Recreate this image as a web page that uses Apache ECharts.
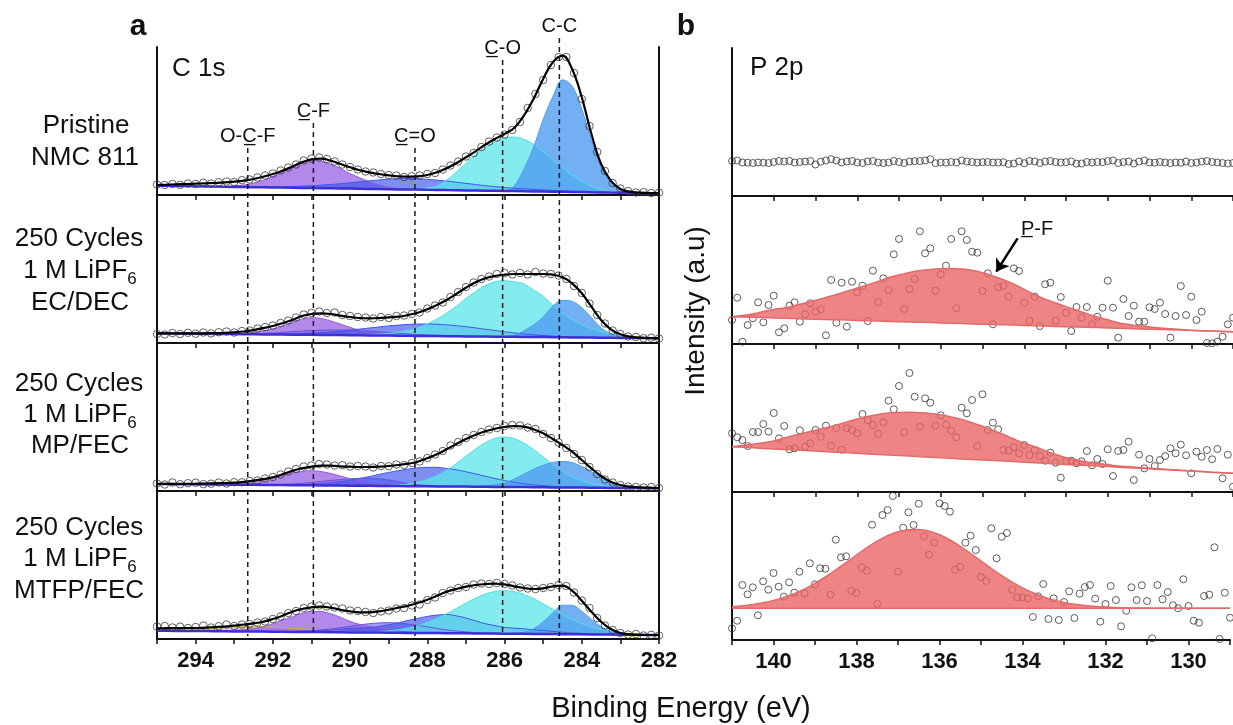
<!DOCTYPE html>
<html><head><meta charset="utf-8">
<script src="https://cdn.jsdelivr.net/npm/echarts/dist/echarts.min.js"></script>
<style>html,body{margin:0;padding:0;background:#fff}#c{width:1233px;height:725px}</style>
</head><body><div id="c"></div>
<script>
const FONT = "'Liberation Sans', Arial, Helvetica, sans-serif";

// ---------- C 1s (left column) ----------
const cX = [295,294.75,294.5,294.25,294,293.75,293.5,293.25,293,292.75,292.5,292.25,292,291.75,291.5,291.25,291,290.75,290.5,290.25,290,289.75,289.5,289.25,289,288.75,288.5,288.25,288,287.75,287.5,287.25,287,286.75,286.5,286.25,286,285.75,285.5,285.25,285,284.75,284.5,284.25,284,283.75,283.5,283.25,283,282.75,282.5,282.25,282];
const cDotX = [295,294.8,294.6,294.4,294.2,294,293.8,293.6,293.4,293.2,293,292.8,292.6,292.4,292.2,292,291.8,291.6,291.4,291.2,291,290.8,290.6,290.4,290.2,290,289.8,289.6,289.4,289.2,289,288.8,288.6,288.4,288.2,288,287.8,287.6,287.4,287.2,287,286.8,286.6,286.4,286.2,286,285.8,285.6,285.4,285.2,285,284.8,284.6,284.4,284.2,284,283.8,283.6,283.4,283.2,283,282.8,282.6,282.4,282.2,282];
const cTicks = [294,292,290,288,286,284,282];

// panel 1 : Pristine NMC 811
const bg1 = [9.3,9.2,9.0,8.9,8.7,8.6,8.4,8.3,8.1,8.0,7.8,7.7,7.5,7.4,7.3,7.1,7.0,6.8,6.7,6.5,6.4,6.2,6.1,5.9,5.8,5.6,5.5,5.4,5.2,5.1,4.9,4.8,4.6,4.5,4.3,4.2,4.0,3.9,3.7,3.6,3.5,3.3,3.2,3.0,2.9,2.7,2.6,2.4,2.3,2.1,2.0,1.8,1.7];
const env1 = [10,10.3,10.7,11,11.3,11.7,12,12.7,13.3,14.3,16,18.3,21,24.3,28.3,32.7,35.7,36.3,34.3,31,27.7,24.7,22.7,21,19.7,18.7,18.3,18.7,20,22.7,26.7,31.7,37.7,43.7,50.3,56,61,67,79.3,96,116,132.7,139.3,126,97.7,61,31,14.3,6,3.3,2.3,2,1.7];
const p1Purple = [0,0,0,0,0,0,0,0,1,2,4,7,11,16,21,25,28,27,24,20,15,11,7,4,2,1,0,0,0,0,0,0,0,0,0,0,0,0,0,0,0,0,0,0,0,0,0,0,0,0,0,0,0];
const p1Royal = [0,0,0,0,0,0,0,0,0,0,0.2,0.3,0.5,0.8,1.2,1.7,2.3,3,3.8,4.8,5.8,7,8.1,9.2,10.1,10.7,11,10.9,10.5,9.8,9,8,7,6,5,4.2,3.5,2.9,2.4,2,1.6,1.3,1,0.7,0.5,0.3,0.2,0,0,0,0,0,0];
const p1Cyan = [0,0,0,0,0,0,0,0,0,0,0,0,0,0,0,0,0,0,0,0,0,0,0,0,0,0,0,1,2,4,10,18,27,36,43,49,53,54,52,47,40,32,24,17,11,6,3,1,0,0,0,0,0];
const p1CC = [0,0,0,0,0,0,0,0,0,0,0,0,0,0,0,0,0,0,0,0,0,0,0,0,0,0,0,0,0,0,0,0,0,0,0,0,0,5,22,44,72,95,112,106,83,52,25,10,3,0.5,0,0,0];
const cDots1 = [10.5,10,11,10.2,11.5,11,12.3,11.5,12.8,13.5,13,14.8,15.5,17.5,19.5,21.5,24.5,27.5,30.5,34.5,36.5,37.5,36,33.5,30.5,28,25.5,23.5,22.5,21,20,19.5,18,18.8,19.5,21,22,25.5,29.5,33.5,38.5,42,48,53.5,57.5,60.5,65,73,87,101,115,130,138,138,122,96,69,43,24,12,6.5,4,2.5,2.8,2,2.3];

// panel 2 : EC/DEC
const bg2 = [9.7,9.6,9.5,9.4,9.3,9.2,9.1,9.0,8.9,8.8,8.7,8.6,8.5,8.4,8.3,8.3,8.2,8.1,8.0,7.9,7.8,7.7,7.6,7.5,7.4,7.3,7.2,7.1,7.0,6.9,6.8,6.7,6.6,6.5,6.4,6.3,6.2,6.2,6.1,6.0,5.9,5.8,5.7,5.6,5.5,5.4,5.3,5.2,5.1,5.0,4.9,4.8,4.7];
const env2 = [9.7,9.7,9.6,9.6,9.6,9.7,9.9,10.2,10.7,11.5,13,14.8,17,19.8,23,27,29,29.7,29,27.3,26,25,24.7,25,25.7,26.3,28,30.3,33.7,38,43,49,55.3,60.7,64.7,67,68.3,69,69,69,69,68.3,65.7,59.7,49.7,36.3,23,13.7,8.7,6.3,5.3,5,4.7];
const p2Violet = [0,0,0,0,0,0,0,0,0.3,0.4,0.6,1,1.5,2.2,3,3.7,4.3,4.7,5,5.1,5,4.7,4.3,3.7,3,2.4,1.8,1.4,1,0.7,0.5,0.3,0.2,0,0,0,0,0,0,0,0,0,0,0,0,0,0,0,0,0,0,0,0];
const p2Purple = [0,0,0,0,0,0,0,0,0.5,1,2,3.5,5.5,8.5,12.5,15.5,17,16.5,14,11,7.8,5,2.9,1.5,0.7,0.3,0,0,0,0,0,0,0,0,0,0,0,0,0,0,0,0,0,0,0,0,0,0,0,0,0,0,0];
const p2Royal = [0,0,0,0,0,0,0,0,0,0,0,0,0.3,0.5,0.8,1.1,1.6,2.2,3,3.9,5,6.2,7.4,8.6,9.7,10.6,11.4,11.8,12,11.8,11.4,10.6,9.7,8.6,7.4,6.2,5,3.9,3,2.2,1.6,1.1,0.8,0.5,0.3,0,0,0,0,0,0,0,0];
const p2Cyan = [0,0,0,0,0,0,0,0,0,0,0,0,0,0,0,0,0,0,0,0,0,0.2,0.7,1.3,2.2,3.5,5.5,8,12,17,23,30,38,45,51,55,56,55,53,47,41,32,24,18,13,9,6,4,2.5,1.5,1,0.5,0];
const p2CC = [0,0,0,0,0,0,0,0,0,0,0,0,0,0,0,0,0,0,0,0,0,0,0,0,0,0,0,0,0,0,0,0,0,0,0,0,0.5,1.5,6,12,20,31,37,36,30,20,10,4,1.5,0.5,0,0,0];
const cDots2 = [9,8.5,10,9,10.2,9.3,10.5,9.6,10.8,11.5,10.5,12,12.5,14.5,16,17.5,20,22.5,25.5,28.5,30,31.5,30,30.5,28,27,26,25.5,24.5,26,25,27,27.5,29,30.5,34.5,37.5,40.5,46,51,56,60.5,64,66.5,69,70,68.5,70,68.5,71,69.5,69,67.5,64,57,50,39.5,28,19.5,12.5,9,6.5,6,4.8,5.3,4.5];

// panel 3 : MP/FEC
const bg3 = [7.0,6.9,6.8,6.8,6.7,6.6,6.5,6.4,6.3,6.3,6.2,6.1,6.0,5.9,5.8,5.8,5.7,5.6,5.5,5.4,5.3,5.3,5.2,5.1,5.0,4.9,4.8,4.8,4.7,4.6,4.5,4.4,4.4,4.3,4.2,4.1,4.0,3.9,3.9,3.8,3.7,3.6,3.5,3.4,3.4,3.3,3.2,3.1,3.0,2.9,2.9,2.8,2.7];
const env3 = [7,7.1,7.1,7.2,7.3,7.5,7.7,8,8.3,9.2,10.3,11.8,13.7,16.7,20,22.7,24.3,25.3,25.3,24.7,24.3,24,24,24.3,25,26,27.3,29.3,32.7,36.7,41.7,47,52,56.3,59.7,62.3,64,65,64.3,61.7,57.7,52,46,39.3,31,22.7,15,9.3,6,4.3,3.7,3.3,3];
const p3Violet = [0,0,0,0,0,0,0,0,0,0,0,0,0.4,0.7,1.2,1.9,2.8,3.9,5,6,6.9,7.3,7.5,7.2,6,4.4,2.8,1.6,0.9,0.4,0.2,0,0,0,0,0,0,0,0,0,0,0,0,0,0,0,0,0,0,0,0,0,0];
const p3Purple = [0,0,0,0,0,0,0.5,1,1.6,2.6,3.9,5.3,7.1,9.7,12.3,13.8,14.6,13.8,12,9.5,6.9,4.5,2.5,1.2,0.5,0.2,0,0,0,0,0,0,0,0,0,0,0,0,0,0,0,0,0,0,0,0,0,0,0,0,0,0,0];
const p3Royal = [0,0,0,0,0,0,0,0,0,0,0,0,0,0.2,0.4,0.6,1.1,1.7,2.6,4,5.5,7.3,9.2,11.5,13.6,15.4,17.1,18.3,19,19,18.1,16.8,14.9,12.8,10.6,8.4,6.5,4.8,3.4,2.4,1.6,1,0.6,0.4,0.2,0,0,0,0,0,0,0,0];
const p3Cyan = [0,0,0,0,0,0,0,0,0,0,0,0,0,0,0,0,0,0,0,0,0,0,0,0,0.6,1.1,2.2,4,6.8,10.8,16.2,22.9,30.3,37.7,44,48.5,50,48.5,44,37.7,30.3,22.9,16.2,10.8,6.8,4,2.2,1.1,0.6,0.2,0,0,0];
const p3CC = [0,0,0,0,0,0,0,0,0,0,0,0,0,0,0,0,0,0,0,0,0,0,0,0,0,0,0,0,0,0,0,0,0,0,1,2,4,8,13,18,22,25,26,25,21,16,11,6,3,1.2,0.5,0,0];
const cDots3 = [7.5,6.5,8.5,6.8,7.8,8.3,6.8,7.3,8.5,7.5,8.8,8.7,10,10.5,12.5,14,16.5,19.5,22,24.5,25.5,27,26.5,25.5,25.8,24.5,25,24.5,23.5,25,24.8,26.5,26,28,29.5,33,36.5,40,45.5,49,53,56,59,61.5,63,65,66,65.5,63.5,62,57,53,48.5,43,37,31,24,17,11.5,8.5,6,4.5,4,3.5,4,3];

// panel 4 : MTFP/FEC
const bg4 = [8.3,8.2,8.1,8.1,8.0,7.9,7.8,7.7,7.6,7.6,7.5,7.4,7.3,7.2,7.1,7.1,7.0,6.9,6.8,6.7,6.6,6.6,6.5,6.4,6.3,6.2,6.1,6.1,6.0,5.9,5.8,5.7,5.7,5.6,5.5,5.4,5.3,5.2,5.2,5.1,5.0,4.9,4.8,4.7,4.7,4.6,4.5,4.4,4.3,4.2,4.2,4.1,4.0];
const env4 = [10.7,10.8,10.9,11,11,11.3,11.8,12.5,13.3,14.5,15.7,17.3,20,23.3,27.3,30,31.7,32.3,31.3,29.3,27.7,26.7,26.7,27.7,29.3,31.3,33.3,36,39.3,43.3,47.3,50,52.3,54,55,55.3,54.7,52.7,51,50,50.7,52.7,53.3,48.3,38.3,27.3,17.3,10,6,4.7,4,4,4];
const p4Olive = [2,2.2,2.5,2.7,3,3.2,3.5,4,4.5,4.8,5,4.8,4.5,4,3.5,3,2.5,2,1.5,1.1,0.8,0.5,0.3,0.1,0,0,0,0,0,0,0,0,0,0,0,0,0,0,0,0,0,0,0,0,0,0,0,0,0,0,0,0,0];
const p4Violet = [0,0,0,0,0,0,0,0,0,0,0,0,0,0,0.4,0.8,1.4,2.3,3.2,4.6,6.1,7.5,8.8,9.7,10,9.7,8.8,7.5,6.1,4.6,3.2,2.3,1.4,0.8,0.4,0,0,0,0,0,0,0,0,0,0,0,0,0,0,0,0,0,0];
const p4Purple = [0,0,0,0,0,0,0,0.5,1,1.8,3,5,8,12,15,18.5,20.5,20.5,18.5,15,11,8,6,4.5,3,1.8,1,0.4,0,0,0,0,0,0,0,0,0,0,0,0,0,0,0,0,0,0,0,0,0,0,0,0,0];
const p4Royal = [0,0,0,0,0,0,0,0,0,0,0,0,0,0,0,0,0.8,1.3,2,3,4,4.4,4.8,6.2,8,10,12.5,14.5,16.6,18,18.8,17.5,15.2,12.5,9.8,8,6.4,5.6,5,4.2,3.5,2.7,2,1.4,1,0.5,0.2,0,0,0,0,0,0];
const p4Cyan = [0,0,0,0,0,0,0,0,0,0,0,0,0,0,0,0,0,0,0,0,0,0,0.6,1.1,1.9,3.1,4.9,7.4,10.7,14.7,19.5,24.8,30.2,35.3,39.4,42.1,43,42.1,39.4,35.3,30.2,24.8,19.5,14.7,10.7,7.4,4.9,3.1,1.9,1.1,0.6,0.3,0];
const p4CC = [0,0,0,0,0,0,0,0,0,0,0,0,0,0,0,0,0,0,0,0,0,0,0,0,0,0,0,0,0,0,0,0,0,0,0,0,0,0.5,1.5,5,12,21,29,29,23,15,8,3,1,0.3,0,0,0];
const cDots4 = [12.5,13,11.5,12.3,11,12,13.5,11.5,12.8,14.5,13,14.5,15,16.5,17.5,20,22.5,26,28,31,32.5,33.5,32.5,31.5,30.5,28.5,28,27,26,27.5,28.5,30.5,31,33.5,34.5,39,41.5,46,48.5,51,52,54.5,55.5,55,56,55,53.5,51.5,50.5,50,51,52,54,53,46.5,38.5,31,21,13.5,9,6,4.5,5,3.5,4.2,3.5];

// peak positions and labels (C 1s)
const peakPos = [292.65, 290.95, 288.32, 286.05, 284.58];
const peakTop = [47, 72, 47, 135, 157];
const peakLabels = ['O-C\u0332-F', 'C\u0332-F', 'C\u0332=O', 'C\u0332-O', 'C-C'];

// ---------- P 2p (right column) ----------
const pX = [141,140.75,140.5,140.25,140,139.75,139.5,139.25,139,138.75,138.5,138.25,138,137.75,137.5,137.25,137,136.75,136.5,136.25,136,135.75,135.5,135.25,135,134.75,134.5,134.25,134,133.75,133.5,133.25,133,132.75,132.5,132.25,132,131.75,131.5,131.25,131,130.75,130.5,130.25,130,129.75,129.5,129.25,129];
const pDotX = [141,140.875,140.75,140.625,140.5,140.375,140.25,140.125,140,139.875,139.75,139.625,139.5,139.375,139.25,139.125,139,138.875,138.75,138.625,138.5,138.375,138.25,138.125,138,137.875,137.75,137.625,137.5,137.375,137.25,137.125,137,136.875,136.75,136.625,136.5,136.375,136.25,136.125,136,135.875,135.75,135.625,135.5,135.375,135.25,135.125,135,134.875,134.75,134.625,134.5,134.375,134.25,134.125,134,133.875,133.75,133.625,133.5,133.375,133.25,133.125,133,132.875,132.75,132.625,132.5,132.375,132.25,132.125,132,131.875,131.75,131.625,131.5,131.375,131.25,131.125,131,130.875,130.75,130.625,130.5,130.375,130.25,130.125,130,129.875,129.75,129.625,129.5,129.375,129.25,129.125,129];
const pTicks = [140,138,136,134,132,130];

const pDots1 = [35,35.5,33.5,33.3,33,33.5,33.3,33,34,35,34.5,35,33.5,34,34.5,35,31.5,34.3,35.5,36.8,35.5,33.5,34.5,35,33.5,33,34.5,35,33.5,33,33.5,35,34,33,34.5,34.8,35,35.5,36.8,32.8,33.5,33.5,34,33.5,35.5,34.5,34,33.5,33.8,34,33.5,33.5,33.8,32,32.5,34.5,32.8,35,34.5,33,34.5,35,34,33.5,33.8,34.5,32.3,32.5,34,33.5,34,33.8,35,35.5,33,34,34.5,32.5,34.5,35.5,33.5,33.3,34,33.5,33,33.5,33.3,34.5,33,33.5,34.5,35,34,33.5,33,32.5,33];
const pDots2 = [24,46.3,2.3,19,25.7,41.7,21.7,39,48.3,11.7,15.7,38.3,41.7,22.3,29.7,40.7,32.3,34.7,8.7,64,21.3,61.3,17.3,62.3,51.7,58.3,23,73.3,42,65.7,54,89.7,105,35,55,65,112.7,90.7,95.7,53.3,69.7,78.3,105,35.7,112.7,104,92.3,91.3,53,70.7,19.7,56.7,58.3,47.3,75.7,73,41.3,23,47.3,18,59.7,61.3,23.3,47,31.3,13,37,26.3,37,19.7,27.3,36.3,63.3,36.3,6.3,45,28,38.3,22.3,22.3,36.7,35,41.3,30,6.3,28,58,29,47.3,24,32.3,1,0.7,2.3,7.3,19.7,26.3];
const pDots3 = [58.7,54.7,52,46,60,60,68,60.3,79,53.7,66,42.7,43.7,61.7,45.3,48.7,62,55.3,66.3,46.3,64,42.3,63.7,62,58.7,78,72,67,58,69.7,91.3,82.7,106,59.7,119,95.3,65.3,93.7,89.3,66.3,76.7,67.3,61.3,54.7,84.3,78.7,92,46,97.7,62,69.3,62.7,42,41.3,44.7,38.7,47,37,42,36,31.3,39.3,29.3,14.3,30.7,31.3,28.7,30.7,41,26.7,33,28,42.7,16,41,42,50.3,12,37.3,23.7,33,26,32,36,43.7,38.7,47.3,36.7,18.7,40.3,35.3,42,32.7,43,13.7,37.3,5.3];
const pDots4 = [11.7,19.3,55,45.7,52.7,24.7,58.7,50.3,67,53.3,43.3,57.7,47.3,68.3,46.7,76.7,55.7,71.7,71.3,45.3,100.3,82.7,83.7,49.3,47,72.3,69.3,115.3,36.3,125,130,144,68.3,112.3,127.7,115,136.3,103.7,85.3,97.3,136.7,134,128.3,70.3,73.3,97.3,104.3,90,63,59,111.7,81.7,103.3,107,50.3,42.7,42.7,41.7,23,43.7,56,21,41.7,20,38,48.7,22,46.3,53,55,41.3,18.3,36,54,40,13.7,29.3,52.7,40,54.7,39,1.7,55,40.7,48,34.7,31.7,60.7,34,19.3,17.3,44,45.3,92.7,1,47.3,22.3];

const pBase2 = [27.3,27,26.7,26.4,26.1,25.7,25.4,25.1,24.8,24.5,24.2,23.9,23.6,23.2,22.9,22.6,22.3,22,21.7,21.4,21.1,20.7,20.4,20.1,19.8,19.5,19.2,18.9,18.6,18.2,17.9,17.6,17.3,17,16.7,16.4,16.1,15.7,15.4,15.1,14.8,14.5,14.2,13.9,13.6,13.2,12.9,12.6,12.3];
const pPeak2 = [0,1.5,3.3,6.1,8.4,10.3,13.1,15.9,18.9,22,25.3,28.8,32.4,36,39.6,43.9,46.7,49.5,51.7,53.2,54.2,54.9,54.6,53.6,51.5,48.5,45,40.8,36,31,26.9,23.4,20.1,16.8,13.5,10.6,8.1,5.6,4.2,3.1,2.2,1.5,1,0.5,0.2,0.1,0,0,0];
const pBase3 = [45.3,44.7,44.2,43.6,43.1,42.5,42,41.4,40.9,40.3,39.8,39.2,38.7,38.1,37.5,37,36.4,35.9,35.3,34.8,34.2,33.7,33.1,32.6,32,31.5,30.9,30.4,29.8,29.2,28.7,28.1,27.6,27,26.5,25.9,25.4,24.8,24.3,23.7,23.2,22.6,22.1,21.5,21,20.4,19.8,19.3,18.7];
const pPeak3 = [0,1.8,3.5,5.6,7.9,11.5,14.7,17.8,20.8,24,27.2,30.8,34.3,37.5,40,41.9,43.1,43.8,44,43.7,43.1,41.3,39.4,36.7,33.7,30,26.6,22.6,19,16.3,12.6,9.4,6.7,5,3.5,2.7,2,1.2,1,0.9,0.6,0.6,0.4,0.3,0,0,0,0,0];
const pBase4 = [31.7,31.7,31.7,31.7,31.7,31.7,31.7,31.7,31.7,31.7,31.7,31.7,31.7,31.7,31.7,31.7,31.7,31.7,31.7,31.7,31.7,31.7,31.7,31.7,31.7,31.7,31.7,31.7,31.7,31.7,31.7,31.7,31.7,31.7,31.7,31.7,31.7,31.7,31.7,31.7,31.7,31.7,31.7,31.7,31.7,31.7,31.7,31.7,31.7];
const pPeak4 = [1.6,2.5,3.8,5.5,7.8,10.9,14.7,19.4,25,31.3,38.4,45.8,53.3,60.6,67.2,72.6,76.5,78.6,78.8,77.1,73.5,68.3,62,54.8,47.3,39.8,32.7,26.1,20.4,15.6,11.6,8.4,5.9,4.1,2.8,1.8,1.2,0.8,0.5,0.3,0.2,0,0,0,0,0,0,0,0];

// arrow of the P-F annotation (data units of panel b-2)
const pfArrow = [[134.16, 105.7], [134.67, 72.3]];

// ---------- styles ----------
const compStyle = {
  olive:  {fill: 'rgba(196,186,80,0.55)', edge: '#c2b64a'},
  violet: {fill: 'rgba(112,84,232,0.6)',  edge: '#6a4fe0'},
  purple: {fill: 'rgba(150,96,226,0.74)', edge: '#9558dc'},
  royal:  {fill: 'rgba(66,88,236,0.68)',  edge: '#4256ea'},
  cyan:   {fill: 'rgba(90,230,234,0.75)', edge: '#4edfe6'},
  cc:     {fill: 'rgba(80,156,240,0.8)',  edge: '#4f9cf0'}
};

const leftPanels = [
  {bg: bg1, env: env1, dots: cDots1, comps: [['purple', p1Purple], ['royal', p1Royal], ['cyan', p1Cyan], ['cc', p1CC]]},
  {bg: bg2, env: env2, dots: cDots2, comps: [['violet', p2Violet], ['purple', p2Purple], ['royal', p2Royal], ['cyan', p2Cyan], ['cc', p2CC]]},
  {bg: bg3, env: env3, dots: cDots3, comps: [['violet', p3Violet], ['purple', p3Purple], ['royal', p3Royal], ['cyan', p3Cyan], ['cc', p3CC]]},
  {bg: bg4, env: env4, dots: cDots4, comps: [['olive', p4Olive], ['violet', p4Violet], ['purple', p4Purple], ['royal', p4Royal], ['cyan', p4Cyan], ['cc', p4CC]]}
];
const rightPanels = [
  {dots: pDots1}, {dots: pDots2, base: pBase2, peak: pPeak2},
  {dots: pDots3, base: pBase3, peak: pPeak3}, {dots: pDots4, base: pBase4, peak: pPeak4}
];

const pairs = (xs, ys) => xs.map((x, i) => [x, ys[i]]);

const grid = [];
for (let p = 0; p < 4; p++) grid.push({left: 157, top: 47 + 148 * p, width: 502, height: 148});
for (let p = 0; p < 4; p++) grid.push({left: 732, top: 48 + 148 * p, width: 502, height: 148});

const xAxis = [];
for (let g = 0; g < 8; g++) {
  const isLeft = g < 4, last = (g % 4) === 3;
  const ticks = isLeft ? cTicks : pTicks;
  xAxis.push({
    type: 'value', gridIndex: g, min: isLeft ? 282 : 129, max: isLeft ? 295 : 141, inverse: true, interval: 1,
    axisLine: {show: true, onZero: false, lineStyle: {color: '#111', width: 2}},
    axisTick: {show: true, inside: false, length: 5, lineStyle: {color: '#111', width: 1.5}},
    axisLabel: {show: last, margin: 11, color: '#111', fontFamily: FONT, fontWeight: 'bold', fontSize: 22,
      showMinLabel: true, showMaxLabel: true,
      formatter: v => (ticks.indexOf(v) >= 0 ? String(v) : '')},
    splitLine: {show: false}
  });
}
for (let g = 0; g < 8; g++) {
  xAxis.push({type: 'category', gridIndex: g, data: (g < 4 ? cX : pX).map(String), boundaryGap: false, show: false});
}
const yAxis = [];
for (let g = 0; g < 8; g++) {
  yAxis.push({type: 'value', gridIndex: g, min: 0, max: 148, position: 'left',
    axisLine: {show: true, onZero: false, lineStyle: {color: '#111', width: 2}},
    axisTick: {show: false}, axisLabel: {show: false}, splitLine: {show: false}});
}
for (let g = 0; g < 4; g++) {
  yAxis.push({type: 'value', gridIndex: g, min: 0, max: 148, position: 'right',
    axisLine: {show: true, onZero: false, lineStyle: {color: '#111', width: 2}},
    axisTick: {show: false}, axisLabel: {show: false}, splitLine: {show: false}});
}

const series = [];
leftPanels.forEach((P, p) => {
  P.comps.forEach(([key, vals], ci) => {
    const st = 'L' + p + '_' + ci, s = compStyle[key];
    series.push({type: 'line', xAxisIndex: 8 + p, yAxisIndex: p, data: P.bg, stack: st, symbol: 'none', silent: true,
      lineStyle: {width: 0, opacity: 0}, z: 2});
    series.push({type: 'line', xAxisIndex: 8 + p, yAxisIndex: p, data: vals, stack: st, symbol: 'none', silent: true,
      smooth: 0.35, lineStyle: {color: s.edge, width: 1}, areaStyle: {color: s.fill, opacity: 1}, z: 2});
  });
  series.push({type: 'line', xAxisIndex: 8 + p, yAxisIndex: p, data: P.bg, symbol: 'none', silent: true,
    lineStyle: {color: '#3d2fd6', width: 2.5}, z: 3});
  series.push({type: 'scatter', xAxisIndex: p, yAxisIndex: p, data: pairs(cDotX, P.dots), symbol: 'circle', symbolSize: 7.5,
    silent: true, itemStyle: {color: 'rgba(255,255,255,0)', borderColor: '#3a3a3a', borderWidth: 1}, z: 4});
  series.push({type: 'line', xAxisIndex: 8 + p, yAxisIndex: p, data: P.env, symbol: 'none', silent: true, smooth: 0.4,
    lineStyle: {color: '#000', width: 2.2}, z: 5});
});
rightPanels.forEach((P, p) => {
  const sc = {type: 'scatter', xAxisIndex: 4 + p, yAxisIndex: 4 + p, data: pairs(pDotX, P.dots), symbol: 'circle', symbolSize: 7,
    silent: true, itemStyle: {color: 'rgba(255,255,255,0)', borderColor: '#333', borderWidth: 1}, z: 2};
  if (p === 1) {
    sc.markLine = {silent: true, symbol: ['none', 'arrow'], symbolSize: 12, label: {show: false},
      lineStyle: {color: '#000', width: 2.5, type: 'solid'},
      data: [[{coord: pfArrow[0]}, {coord: pfArrow[1]}]]};
  }
  series.push(sc);
  if (P.base) {
    const st = 'R' + p;
    series.push({type: 'line', xAxisIndex: 12 + p, yAxisIndex: 4 + p, data: P.base, stack: st, symbol: 'none', silent: true,
      lineStyle: {color: '#e46a6a', width: 1.5}, z: 3});
    series.push({type: 'line', xAxisIndex: 12 + p, yAxisIndex: 4 + p, data: P.peak, stack: st, symbol: 'none', silent: true,
      smooth: 0.35, lineStyle: {color: '#e46a6a', width: 1.5}, areaStyle: {color: 'rgba(234,98,98,0.78)', opacity: 1}, z: 3});
  }
});

const chart = echarts.init(document.getElementById('c'), null, {renderer: 'canvas'});
chart.setOption({animation: false, backgroundColor: '#fff', grid, xAxis, yAxis, series});

// annotations (positions taken from the chart's own scales)
const gfx = [];
peakPos.forEach((v, i) => {
  const a = chart.convertToPixel({xAxisIndex: 0, yAxisIndex: 0}, [v, peakTop[i]]);
  const b = chart.convertToPixel({xAxisIndex: 3, yAxisIndex: 3}, [v, 3]);
  gfx.push({type: 'line', silent: true, z: 20, shape: {x1: a[0], y1: a[1], x2: b[0], y2: b[1]},
    style: {stroke: '#1a1a1a', lineWidth: 1.5, lineDash: [5, 4]}});
  gfx.push({type: 'text', silent: true, z: 20, x: a[0], y: a[1] - 11.5,
    style: {text: peakLabels[i], fill: '#111', font: '20px ' + FONT, align: 'center', verticalAlign: 'middle'}});
});
const T = (text, x, y, size, opts) => Object.assign({type: 'text', silent: true, z: 20, x, y,
  style: Object.assign({text, fill: '#111', font: size + 'px ' + FONT, align: 'center', verticalAlign: 'middle'}, opts || {})});
const lipf = (x, y) => ({type: 'text', silent: true, z: 20, x, y,
  style: {text: '1 M LiPF{s|6}', fill: '#111', font: '26px ' + FONT, align: 'center', verticalAlign: 'middle',
    rich: {s: {fontSize: 17, fontFamily: FONT, fill: '#111', padding: [16, 0, 0, 0]}}}});
gfx.push(T('a', 138, 26.5, 30, {font: 'bold 30px ' + FONT}));
gfx.push(T('b', 686, 26.5, 30, {font: 'bold 30px ' + FONT}));
gfx.push(T('C 1s', 172, 69, 26, {align: 'left'}));
gfx.push(T('P 2p', 750, 68, 26, {align: 'left'}));
gfx.push(T('Pristine', 86, 126, 26));
gfx.push(T('NMC 811', 85, 158, 26));
gfx.push(T('250 Cycles', 79, 239, 26)); gfx.push(lipf(80, 271)); gfx.push(T('EC/DEC', 80, 303, 26));
gfx.push(T('250 Cycles', 79, 384, 26)); gfx.push(lipf(80, 415)); gfx.push(T('MP/FEC', 80, 446, 26));
gfx.push(T('250 Cycles', 79, 528, 26)); gfx.push(lipf(80, 559)); gfx.push(T('MTFP/FEC', 79, 591, 26));
gfx.push(T('Binding Energy (eV)', 681, 709, 29));
gfx.push(Object.assign(T('Intensity (a.u)', 696, 311, 28), {rotation: Math.PI / 2}));
gfx.push(T('P\u0332-F', 1037, 229, 20));
chart.setOption({graphic: gfx});
</script></body></html>
